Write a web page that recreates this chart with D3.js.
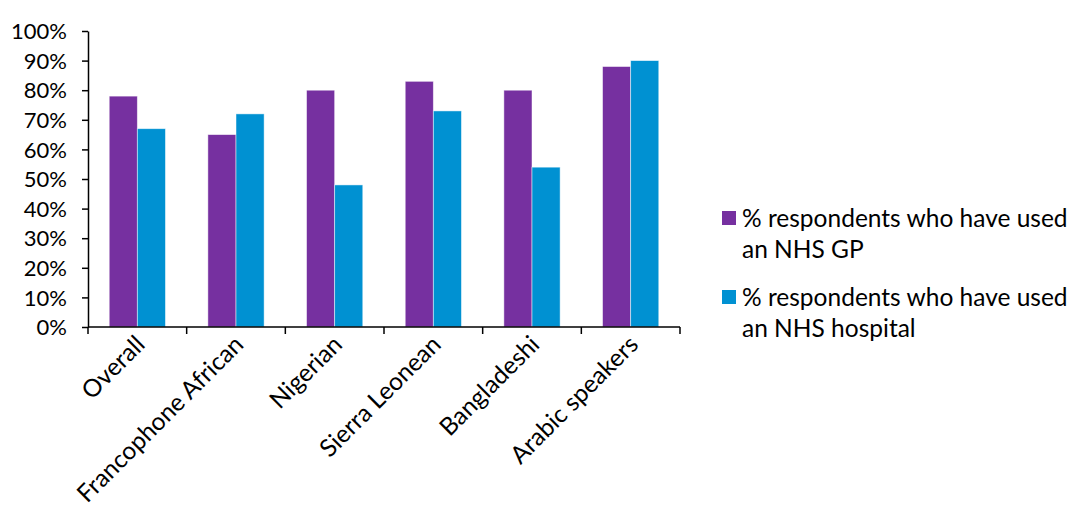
<!DOCTYPE html>
<html>
<head>
<meta charset="utf-8">
<script src="https://cdn.jsdelivr.net/npm/d3@7"></script>
<style>
  body { margin: 0; background: #fff; }
  text { font-family: Lato, "Open Sans", sans-serif; fill: #000; }
</style>
</head>
<body>
<div id="chart"></div>
<script>
// data
let groups = ["Overall", "Francophone African", "Nigerian", "Sierra Leonean", "Bangladeshi", "Arabic speakers"];
let gpValues = [78, 65, 80, 83, 80, 88];
let hospitalValues = [67, 72, 48, 73, 54, 90];
let seriesNames = ["% respondents who have used an NHS GP", "% respondents who have used an NHS hospital"];
let seriesLines = [["% respondents who have used", "an NHS GP"], ["% respondents who have used", "an NHS hospital"]];
let colors = ["#7630a0", "#0091d2"];
let yTicks = [0, 10, 20, 30, 40, 50, 60, 70, 80, 90, 100];

let width = 1072, height = 514;
let plotLeft = 88, plotRight = 680, plotTop = 31, plotBottom = 327;

let svg = d3.select("#chart").append("svg")
  .attr("width", width)
  .attr("height", height);

let x = d3.scaleBand().domain(groups).range([plotLeft, plotRight]).paddingInner(0.43).paddingOuter(0.215);
let xInner = d3.scaleBand().domain([0, 1]).range([0, x.bandwidth()]);
let y = d3.scaleLinear().domain([0, 100]).range([plotBottom, plotTop]);

let rows = groups.map((g, i) => ({ group: g, values: [gpValues[i], hospitalValues[i]] }));

// bars
svg.append("g").selectAll("g")
  .data(rows)
  .enter().append("g")
  .attr("transform", d => `translate(${x(d.group)},0)`)
  .selectAll("rect")
  .data(d => d.values.map((v, k) => ({ k: k, v: v })))
  .enter().append("rect")
  .attr("x", d => xInner(d.k))
  .attr("y", d => y(d.v))
  .attr("width", xInner.bandwidth())
  .attr("height", d => plotBottom - y(d.v))
  .attr("fill", d => colors[d.k])
  .attr("stroke", "rgba(255,255,255,0.6)")
  .attr("stroke-width", 0.8);

// y axis
let yAxis = svg.append("g")
  .attr("transform", `translate(${plotLeft},0)`)
  .call(d3.axisLeft(y).tickValues(yTicks).tickFormat(d => d + "%").tickSize(6).tickSizeOuter(0));
yAxis.select(".domain").attr("stroke", "#000").attr("stroke-width", 1.5);
yAxis.selectAll(".tick line").attr("stroke", "#000").attr("stroke-width", 1.5);
yAxis.selectAll(".tick text").attr("x", -21).attr("dy", "0.35em").style("font-size", "22px");

// x axis, ticks on band edges
let edges = groups.map((g, i) => plotLeft + i * (plotRight - plotLeft) / groups.length).concat([plotRight]);
let xAxisG = svg.append("g");
xAxisG.append("line")
  .attr("x1", plotLeft).attr("x2", plotRight)
  .attr("y1", plotBottom).attr("y2", plotBottom)
  .attr("stroke", "#000").attr("stroke-width", 1.5);
xAxisG.selectAll("line.tick")
  .data(edges)
  .enter().append("line")
  .attr("class", "tick")
  .attr("x1", d => d).attr("x2", d => d)
  .attr("y1", plotBottom).attr("y2", plotBottom + 7)
  .attr("stroke", "#000").attr("stroke-width", 1.5);

xAxisG.selectAll("text")
  .data(groups)
  .enter().append("text")
  .attr("text-anchor", "end")
  .attr("transform", d => `translate(${x(d) + x.bandwidth() / 2 + 9},${plotBottom + 19}) rotate(-45)`)
  .style("font-size", "24.5px")
  .text(d => d);

// legend
let legend = svg.append("g").selectAll("g")
  .data(seriesNames)
  .enter().append("g")
  .attr("transform", (d, i) => `translate(722,${211 + i * 79})`);
legend.append("rect")
  .attr("width", 14).attr("height", 14)
  .attr("fill", (d, i) => colors[i]);
legend.each(function (d, i) {
  let t = d3.select(this).append("text")
    .attr("x", 20).attr("y", 16)
    .style("font-size", "24.5px");
  seriesLines[i].forEach((line, j) => {
    t.append("tspan").attr("x", 20).attr("dy", j === 0 ? 0 : 31).text(line);
  });
});
</script>
</body>
</html>
